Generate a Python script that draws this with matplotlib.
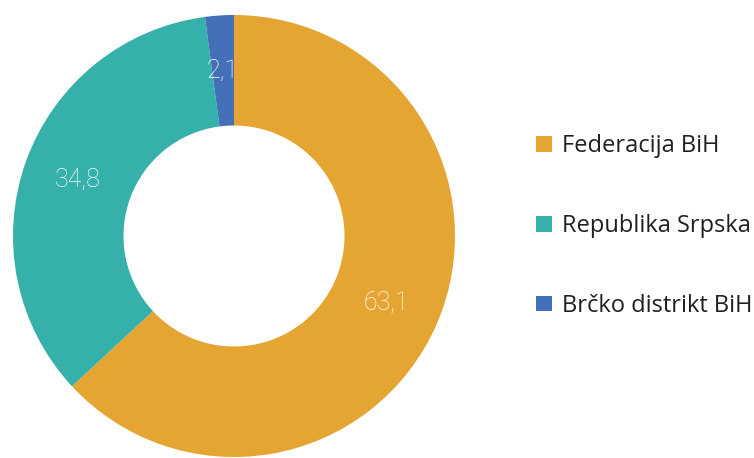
import matplotlib.pyplot as plt
import numpy as np

# udio po entitetima (%)
labels = ['Federacija BiH', 'Republika Srpska', 'Brčko distrikt BiH']
values = [63.1, 34.8, 2.1]
value_text = ['63,1', '34,8', '2,1']
colors = ['#E5A532', '#35B0AA', '#4470B8']

fig = plt.figure(figsize=(7.54, 4.58), dpi=100)

# donut centre ~ (234, 236) px, radius ~221 px
ax = fig.add_axes([(234 - 221) / 754, (458 - 236 - 221) / 458, 442 / 754, 442 / 458])

wedges, _ = ax.pie(values, colors=colors, startangle=90, counterclock=False,
                   radius=1.0, wedgeprops=dict(width=0.5, edgecolor='none'))

# labels in the middle of the ring
for w, t in zip(wedges, value_text):
    ang = np.deg2rad((w.theta1 + w.theta2) / 2)
    ax.text(0.75 * np.cos(ang), 0.75 * np.sin(ang), t, ha='center', va='center',
            color='white', fontsize=18, family='Roboto', fontweight='light')

ax.set_xlim(-1, 1)
ax.set_ylim(-1, 1)
ax.set_aspect('equal')
ax.axis('off')

leg = fig.legend(wedges, labels, loc='center left', bbox_to_anchor=(515 / 754, 1 - 226 / 458),
                 frameon=False, handlelength=0.65, handleheight=0.65, handletextpad=0.45,
                 labelspacing=2.36, prop={'family': 'Open Sans', 'size': 17})
for txt in leg.get_texts():
    txt.set_color('#231F20')

fig.savefig('out.png', dpi=100)
